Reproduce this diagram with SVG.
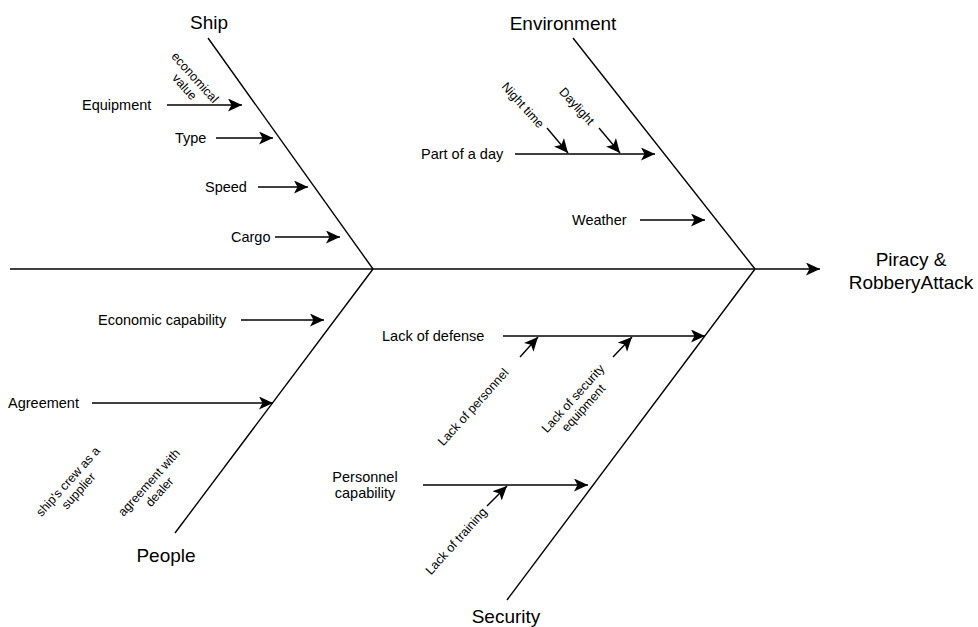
<svg xmlns="http://www.w3.org/2000/svg" width="978" height="627" viewBox="0 0 978 627">
  <defs>
    <marker id="arrow" markerUnits="userSpaceOnUse" markerWidth="16" markerHeight="14" refX="14" refY="6.5" orient="auto">
      <path d="M0,0 L14,6.5 L0,13 L3.5,6.5 Z" fill="#000"/>
    </marker>
  </defs>
  <style>
    text { font-family: "Liberation Sans", Arial, Helvetica, sans-serif; fill: #000; }
    .lbl { font-size: 14.5px; }
    .cat { font-size: 19px; text-anchor: middle; }
    .sub { font-size: 12.5px; text-anchor: middle; }
    .bone { stroke: #000; stroke-width: 1.4; fill: none; }
    .arr { stroke: #000; stroke-width: 1.4; fill: none; marker-end: url(#arrow); }
  </style>
  <rect width="978" height="627" fill="#fff"/>

  <!-- spine, bones and cause arrows -->
  <g id="connectors">
    <path class="arr" d="M10,269 L820,269"/>
    <path class="bone" d="M208,38 L373,269"/>
    <path class="bone" d="M573,38 L755,269"/>
    <path class="bone" d="M175,533 L373,269"/>
    <path class="bone" d="M507,600 L755,269"/>
    <!-- Ship -->
    <path class="arr" d="M167,105 L242,105"/>
    <path class="arr" d="M216,138 L273,138"/>
    <path class="arr" d="M258,187 L308,187"/>
    <path class="arr" d="M275,237 L340,237"/>
    <!-- Environment -->
    <path class="arr" d="M515,154 L655,154"/>
    <path class="arr" d="M547,128 L568,153"/>
    <path class="arr" d="M599,128 L620,153"/>
    <path class="arr" d="M640,220 L705,220"/>
    <!-- People -->
    <path class="arr" d="M241,320 L324,320"/>
    <path class="arr" d="M92,403 L273,403"/>
    <!-- Security -->
    <path class="arr" d="M503,336 L705,336"/>
    <path class="arr" d="M520,357 L538,337"/>
    <path class="arr" d="M613,357 L632,337"/>
    <path class="arr" d="M423,485 L588,485"/>
    <path class="arr" d="M487,506 L507,486"/>
  </g>

  <g id="result">
    <text class="cat" x="911" y="266">Piracy &amp;</text>
    <text class="cat" x="911" y="289">RobberyAttack</text>
  </g>

  <g id="ship">
    <text class="cat" x="209" y="29">Ship</text>
  </g>
  <g id="ship-equipment">
    <text class="lbl" x="82" y="110">Equipment</text>
    <text class="sub" transform="translate(190,82) rotate(48)"><tspan x="0" y="-2.5">economical</tspan><tspan x="0" y="11.5">value</tspan></text>
  </g>
  <g id="ship-type"><text class="lbl" x="175" y="143">Type</text></g>
  <g id="ship-speed"><text class="lbl" x="205" y="192">Speed</text></g>
  <g id="ship-cargo"><text class="lbl" x="231" y="242">Cargo</text></g>

  <g id="environment">
    <text class="cat" x="563" y="30">Environment</text>
  </g>
  <g id="env-part-of-day">
    <text class="lbl" x="421" y="159">Part of a day</text>
    <text class="sub" transform="translate(523,105) rotate(48)" y="4.4">Night time</text>
    <text class="sub" transform="translate(577,106) rotate(48)" y="4.4">Daylight</text>
  </g>
  <g id="env-weather"><text class="lbl" x="572" y="225">Weather</text></g>

  <g id="people">
    <text class="cat" x="166" y="562">People</text>
  </g>
  <g id="people-economic"><text class="lbl" x="98" y="325">Economic capability</text></g>
  <g id="people-agreement">
    <text class="lbl" x="8" y="408">Agreement</text>
    <text class="sub" transform="translate(73,486) rotate(-48)"><tspan x="0" y="-2.5">ship's crew as a</tspan><tspan x="0" y="11.5">supplier</tspan></text>
    <text class="sub" transform="translate(154,487) rotate(-48)"><tspan x="0" y="-2.5">agreement with</tspan><tspan x="0" y="11.5">dealer</tspan></text>
  </g>

  <g id="security">
    <text class="cat" x="506" y="623">Security</text>
  </g>
  <g id="sec-defense">
    <text class="lbl" x="382" y="341">Lack of defense</text>
    <text class="sub" transform="translate(473,407) rotate(-48)" y="4.4">Lack of personnel</text>
    <text class="sub" transform="translate(578,403) rotate(-48)"><tspan x="0" y="-2.5">Lack of security</tspan><tspan x="0" y="11.5">equipment</tspan></text>
  </g>
  <g id="sec-personnel">
    <text class="lbl" text-anchor="middle"><tspan x="365" y="482">Personnel</tspan><tspan x="365" y="498">capability</tspan></text>
    <text class="sub" transform="translate(456,541) rotate(-48)" y="4.4">Lack of training</text>
  </g>
</svg>
